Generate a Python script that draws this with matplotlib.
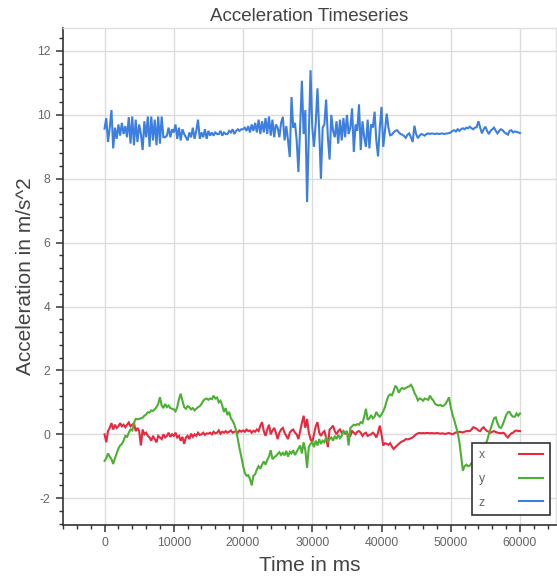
import numpy as np
import matplotlib
matplotlib.use("Agg")
import matplotlib.pyplot as plt
from matplotlib.ticker import MultipleLocator

plt.rcParams['font.family'] = ['Liberation Sans', 'DejaVu Sans']
plt.rcParams['axes.unicode_minus'] = False

title = "Acceleration Timeseries"
xlabel = "Time in ms"
ylabel = "Acceleration in m/s^2"
series_names = ["x", "y", "z"]
sample_interval_ms = 250

# x-axis acceleration (red), one value every 250 ms from 0 to 60000 ms
acc_x = [
    0.0, -0.25, 0.1, 0.2, 0.35, 0.15, 0.3, 0.2, 0.25, 0.35, 0.25, 0.3, 0.22, 0.3, 0.37, 0.25, 0.3, 0.35, 0.1, 0.2,
    0.1, -0.35, 0.15, 0.0, 0.05, -0.05, -0.1, -0.2, -0.05, -0.15, -0.25, -0.05, -0.1, -0.15, 0.0, -0.1, -0.05, 0.05, -0.08, 0.0,
    -0.05, 0.05, -0.1, -0.05, -0.2, -0.08, -0.3, -0.1, -0.05, -0.15, 0.02, -0.08, 0.0, -0.05, 0.05, -0.02, 0.0, 0.05, -0.02, 0.03,
    0.02, 0.05, 0.0, 0.08, 0.03, 0.05, 0.12, 0.02, 0.08, 0.05, 0.1, 0.05, 0.08, 0.12, 0.05, 0.08, 0.1, 0.05, 0.12, 0.08,
    0.12, 0.08, 0.15, 0.1, 0.12, 0.05, 0.11, 0.08, 0.15, 0.1, 0.27, 0.38, 0.1, -0.05, 0.15, 0.3, 0.0, 0.12, 0.2, 0.05,
    -0.15, 0.05, 0.15, 0.2, 0.05, -0.05, -0.15, 0.05, 0.12, 0.15, 0.05, 0.0, -0.15, 0.1, 0.35, 0.58, 0.2, 0.48, 0.05, -0.15,
    -0.25, 0.0, 0.25, 0.38, 0.05, -0.05, 0.05, 0.1, -0.1, -0.4, 0.15, 0.2, 0.27, 0.1, 0.0, 0.1, 0.15, 0.05, 0.1, 0.02,
    0.05, -0.05, -0.05, 0.1, 0.05, 0.0, 0.08, 0.1, 0.05, -0.05, 0.02, 0.05, -0.05, -0.02, 0.0, 0.05, 0.0, -0.1, 0.05, 0.27,
    0.0, -0.35, -0.28, -0.3, -0.33, -0.28, -0.38, -0.46, -0.4, -0.35, -0.3, -0.25, -0.22, -0.2, -0.15, -0.16, -0.15, -0.12, -0.1, -0.05,
    0.0, 0.03, 0.04, 0.03, 0.04, 0.03, 0.04, 0.04, 0.03, 0.04, 0.03, 0.03, 0.04, 0.03, 0.02, 0.03, 0.02, 0.01, 0.03, 0.04,
    0.02, 0.0, 0.03, 0.06, 0.05, 0.08, 0.07, 0.06, 0.08, 0.1, 0.1, 0.1, 0.15, 0.22, 0.2, 0.17, 0.12, 0.1, 0.18, 0.22,
    0.15, 0.1, 0.08, 0.05, 0.08, 0.1, 0.07, 0.05, 0.04, 0.03, 0.05, 0.03, -0.05, -0.1, -0.03, 0.03, 0.05, 0.1, 0.12, 0.1,
    0.1,
]

# y-axis acceleration (green)
acc_y = [
    -0.83, -0.75, -0.6, -0.7, -0.78, -0.93, -0.75, -0.6, -0.45, -0.35, -0.3, -0.2, -0.05, -0.08, 0.05, 0.15, 0.12, 0.35, 0.48, 0.47,
    0.48, 0.5, 0.52, 0.58, 0.62, 0.69, 0.68, 0.75, 0.73, 0.78, 0.85, 0.95, 1.16, 0.9, 0.82, 0.95, 0.85, 0.9, 0.82, 0.8,
    0.78, 0.72, 0.85, 1.1, 1.27, 1.05, 0.85, 0.8, 0.88, 0.85, 0.78, 0.82, 0.75, 0.8, 0.85, 0.88, 0.95, 1.05, 1.1, 1.12,
    1.08, 1.12, 1.1, 1.21, 1.12, 1.15, 1.0, 1.05, 0.9, 0.7, 0.82, 0.6, 0.7, 0.5, 0.42, 0.3, 0.12, -0.15, -0.45, -0.7,
    -0.98, -1.2, -1.3, -1.28, -1.4, -1.6, -1.3, -1.25, -1.1, -1.0, -1.08, -0.95, -0.85, -0.95, -0.8, -0.7, -0.5, -0.78, -0.72, -0.68,
    -0.62, -0.56, -0.65, -0.58, -0.66, -0.52, -0.7, -0.55, -0.6, -0.5, -0.65, -0.55, -0.45, -0.35, -0.6, -0.25, -0.5, -1.05, -0.4, -0.3,
    -0.25, -0.4, -0.2, -0.35, -0.15, -0.3, -0.2, -0.25, -0.08, -0.22, -0.15, -0.1, -0.2, -0.05, -0.15, -0.02, -0.12, -0.05, 0.1, 0.05,
    0.1, -0.35, 0.2, 0.25, 0.3, 0.28, 0.32, 0.3, 0.38, 0.35, 0.55, 0.8, 0.45, 0.5, 0.6, 0.5, 0.55, 0.7, 0.6, 0.55,
    0.62, 0.72, 0.85, 1.05, 1.2, 1.25, 1.22, 1.35, 1.52, 1.45, 1.3, 1.4, 1.45, 1.42, 1.45, 1.48, 1.5, 1.55, 1.45, 1.3,
    1.2, 1.06, 1.12, 1.1, 1.05, 1.12, 1.1, 1.08, 1.21, 1.12, 1.05, 0.95, 0.92, 0.9, 0.92, 0.88, 0.9, 0.95, 1.05, 1.16,
    0.85, 0.62, 0.45, 0.25, 0.05, -0.25, -0.7, -1.14, -1.0, -0.95, -1.0, -0.98, -0.9, -0.85, -0.75, -0.7, -0.6, -0.5, -0.45, -0.35,
    -0.3, -0.2, 0.0, 0.17, 0.35, 0.5, 0.53, 0.35, 0.22, 0.2, 0.3, 0.45, 0.6, 0.69, 0.7, 0.6, 0.55, 0.55, 0.65, 0.58,
    0.65,
]

# z-axis acceleration (blue)
acc_z = [
    9.57, 9.9, 9.15, 9.6, 10.15, 8.95, 9.6, 9.25, 9.7, 9.35, 9.75, 9.4, 9.65, 9.3, 9.93, 9.1, 9.95, 9.05, 9.85, 9.15,
    9.7, 9.4, 8.9, 9.8, 9.3, 9.95, 9.0, 9.95, 9.2, 9.85, 9.05, 9.95, 9.1, 9.95, 9.3, 9.3, 9.35, 9.6, 9.3, 9.55,
    9.45, 9.7, 9.25, 9.6, 9.2, 9.55, 9.4, 9.3, 9.2, 9.45, 9.3, 9.6, 9.25, 9.5, 9.85, 9.25, 9.45, 9.3, 9.55, 9.25,
    9.5, 9.35, 9.45, 9.35, 9.45, 9.4, 9.4, 9.5, 9.35, 9.45, 9.4, 9.4, 9.5, 9.45, 9.55, 9.4, 9.5, 9.55, 9.5, 9.55,
    9.55, 9.6, 9.5, 9.65, 9.45, 9.7, 9.5, 9.75, 9.45, 9.85, 9.4, 9.8, 9.45, 9.9, 9.4, 9.95, 9.35, 9.85, 9.3, 9.7,
    9.6, 9.3, 9.75, 9.94, 9.2, 9.65, 9.2, 8.68, 10.56, 9.6, 9.75, 9.2, 8.21, 9.6, 11.07, 9.4, 10.15, 7.27, 9.3, 11.4,
    9.6, 9.0, 9.75, 10.83, 9.5, 8.0, 9.6, 9.7, 10.48, 9.3, 8.6, 10.0, 9.5, 9.3, 9.8, 9.1, 9.85, 9.2, 9.9, 9.3,
    10.0, 9.4, 9.6, 10.2, 8.84, 9.7, 9.5, 10.33, 8.9, 9.8, 9.3, 9.0, 9.85, 8.95, 9.7, 9.6, 10.1, 9.2, 8.7, 9.6,
    10.25, 9.0, 9.5, 10.04, 9.6, 9.36, 9.38, 9.45, 9.5, 9.52, 9.45, 9.4, 9.38, 9.34, 9.28, 9.38, 9.42, 9.3, 9.15, 9.66,
    9.4, 9.27, 9.35, 9.4, 9.38, 9.35, 9.4, 9.42, 9.4, 9.42, 9.41, 9.4, 9.42, 9.4, 9.41, 9.42, 9.4, 9.41, 9.42, 9.43,
    9.45, 9.5, 9.52, 9.48, 9.55, 9.5, 9.55, 9.58, 9.55, 9.6, 9.58, 9.63, 9.58, 9.55, 9.6, 9.62, 9.8, 9.6, 9.42, 9.55,
    9.63, 9.5, 9.4, 9.5, 9.55, 9.6, 9.5, 9.42, 9.5, 9.55, 9.52, 9.45, 9.42, 9.38, 9.5, 9.52, 9.45, 9.48, 9.47, 9.45,
    9.43,
]

time_ms = np.arange(len(acc_z)) * sample_interval_ms

colors = ["#e8283f", "#4cb033", "#3d7fe0"]
text_col = "#444444"
tick_col = "#666666"

fig = plt.figure(figsize=(5.57, 5.79), dpi=100)
ax = fig.add_axes([63/557, 1 - 525/579, 493/557, 497/579])

for vals, name, c in zip([acc_x, acc_y, acc_z], series_names, colors):
    ax.plot(time_ms, vals, color=c, lw=1.5, label=name, solid_joinstyle='miter')

ax.set_xlim(-6000, 65200)
ax.set_ylim(-2.84, 12.72)
ax.xaxis.set_major_locator(MultipleLocator(10000))
ax.xaxis.set_minor_locator(MultipleLocator(2000))
ax.yaxis.set_major_locator(MultipleLocator(2))
ax.yaxis.set_minor_locator(MultipleLocator(0.4))

ax.grid(True, which='major', color='#dcdcdc', lw=1.0)
ax.set_axisbelow(True)

for s in ['top', 'right']:
    ax.spines[s].set_color('#e0e0e0')
    ax.spines[s].set_linewidth(1.0)
for s in ['left', 'bottom']:
    ax.spines[s].set_color('#333333')
    ax.spines[s].set_linewidth(1.2)

ax.tick_params(which='major', direction='out', length=5, width=1.1, color='#333333',
               labelsize=8.8, labelcolor=tick_col, pad=4)
ax.tick_params(which='minor', direction='out', length=3, width=1.0, color='#333333')

ax.set_title(title, fontsize=13.5, color=text_col, pad=5)
ax.set_xlabel(xlabel, fontsize=15, color=text_col, labelpad=5)
ax.set_ylabel(ylabel, fontsize=15, color=text_col, labelpad=1.5)

leg = ax.legend(loc='lower right', bbox_to_anchor=(0.988, 0.0195), markerfirst=False,
                handlelength=2.0, handletextpad=2.8, labelspacing=0.95,
                fontsize=8.8, frameon=True, fancybox=False, borderpad=0.55,
                borderaxespad=0.0)
leg.get_frame().set_edgecolor('#333333')
leg.get_frame().set_linewidth(1.2)
leg.get_frame().set_facecolor('white')
leg.get_frame().set_alpha(1.0)
for t in leg.get_texts():
    t.set_color(tick_col)

fig.savefig("out.png", dpi=100)
